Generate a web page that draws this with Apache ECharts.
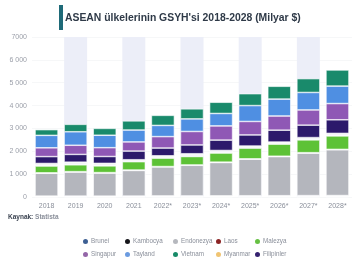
<!DOCTYPE html>
<html>
<head>
<meta charset="utf-8">
<script src="https://cdn.jsdelivr.net/npm/echarts@6/dist/echarts.min.js"></script>
<style>
html, body { margin: 0; padding: 0; background: #fff; }
#chart { width: 352px; height: 260px; }
</style>
</head>
<body>
<div id="chart"></div>
<script>
// yillar ve seriler (Milyar $)
var years = ['2018', '2019', '2020', '2021', '2022*', '2023*', '2024*', '2025*', '2026*', '2027*', '2028*'];
var yTicks = ['0', '1 000', '2 000', '3 000', '4 000', '5 000', '6 000', '7000'];

var brunei     = [14, 13, 12, 14, 17, 16, 16, 17, 17, 18, 18];
var kambocya   = [25, 27, 26, 27, 30, 32, 34, 37, 40, 43, 46];
var endonezya  = [1000, 1050, 1010, 1120, 1270, 1340, 1460, 1600, 1710, 1860, 2000];
var laos       = [18, 19, 19, 19, 15, 14, 15, 16, 17, 18, 19];
var malezya    = [300, 300, 295, 365, 370, 370, 400, 470, 530, 560, 590];
var myanmar    = [110, 115, 110, 85, 100, 120, 110, 90, 90, 100, 110];
var filipinler = [300, 340, 300, 380, 340, 385, 455, 485, 520, 545, 595];
var singapur   = [385, 400, 385, 400, 500, 590, 620, 590, 620, 665, 710];
var tayland    = [545, 590, 545, 520, 490, 550, 545, 695, 740, 765, 765];
var vietnam    = [250, 325, 300, 400, 440, 440, 490, 520, 560, 605, 705];
var stripe     = [0, 7000, 0, 7000, 0, 7000, 0, 7000, 0, 7000, 0];

var names  = ['Brunei', 'Kambocya', 'Endonezya', 'Laos', 'Malezya', 'Singapur', 'Tayland', 'Vietnam', 'Myanmar', 'Filipinler'];
var colors = ['#3d5f93', '#15151a', '#b6b8be', '#8b2424', '#66c043', '#9466a8', '#6b9be0', '#178a68', '#f0c472', '#35226f'];

var chart = echarts.init(document.getElementById('chart'));

function bar(name, data, fill) {
  return {
    name: name, type: 'bar', stack: 'gsyh', data: data, barWidth: 23,
    itemStyle: { color: fill, borderColor: '#fff', borderWidth: 0.6 },
    z: 3
  };
}

// legend: 2 satir x 5 sutun
var colLeft = [76, 118, 166, 209, 248];
var legends = names.map(function (n, i) {
  return {
    data: [{ name: n, itemStyle: { color: colors[i] } }],
    left: colLeft[i % 5], top: i < 5 ? 232 : 245,
    icon: 'circle', itemWidth: 7, itemHeight: 7, itemGap: 2,
    textStyle: { fontSize: 6.3, color: '#8a8f9a', padding: [0, 0, 0, -3], fontFamily: 'Liberation Sans, sans-serif' },
    selectedMode: false
  };
});

var option = {
  animation: false,
  title: [
    {
      text: "ASEAN ülkelerinin GSYH'si 2018-2028 (Milyar $)",
      left: 65, top: 13, padding: 0,
      textStyle: { fontSize: 10.4, fontWeight: 'bold', color: '#2f3a48', fontFamily: 'Liberation Sans, sans-serif' }
    },
    {
      text: '{b|Kaynak:} Statista',
      left: 8, top: 214, padding: 0,
      textStyle: {
        fontSize: 6.5, color: '#8a8f9a', fontFamily: 'Liberation Sans, sans-serif',
        rich: { b: { fontSize: 6.5, fontWeight: 'bold', color: '#3a4250', fontFamily: 'Liberation Sans, sans-serif' } }
      }
    }
  ],
  graphic: [
    { type: 'rect', left: 59, top: 5, shape: { width: 4, height: 25 }, style: { fill: '#1e6a78' } }
  ],
  legend: legends,
  grid: { left: 32, right: -3, top: 37, bottom: 63 },
  xAxis: {
    type: 'category', data: years,
    axisLine: { show: false }, axisTick: { show: false },
    axisLabel: { fontSize: 7, color: '#8a8f9a', margin: 6, fontFamily: 'Liberation Sans, sans-serif' }
  },
  yAxis: {
    type: 'value', min: 0, max: 7000, interval: 1000,
    axisLine: { show: false }, axisTick: { show: false },
    splitLine: { lineStyle: { color: '#f0f1f4', width: 0.6 } },
    axisLabel: {
      fontSize: 7, color: '#9a9ea8', margin: 5, fontFamily: 'Liberation Sans, sans-serif',
      formatter: function (v) { return yTicks[Math.round(v / 1000)]; }
    }
  },
  series: [
    { name: 'bg', type: 'bar', data: stripe, barWidth: 23, barGap: '-100%', silent: true,
      itemStyle: { color: '#eceef8' }, z: 1 },
    bar('Brunei', brunei, '#f3f4f7'),
    bar('Kambocya', kambocya, '#f3f4f7'),
    bar('Endonezya', endonezya, '#b4b6bd'),
    bar('Laos', laos, '#f3f4f7'),
    bar('Malezya', malezya, '#5dc236'),
    bar('Myanmar', myanmar, '#f3f4f7'),
    bar('Filipinler', filipinler, '#2c196b'),
    bar('Singapur', singapur, '#8f58b5'),
    bar('Tayland', tayland, '#4f8fe2'),
    bar('Vietnam', vietnam, '#198a6b')
  ]
};

chart.setOption(option);
</script>
</body>
</html>
